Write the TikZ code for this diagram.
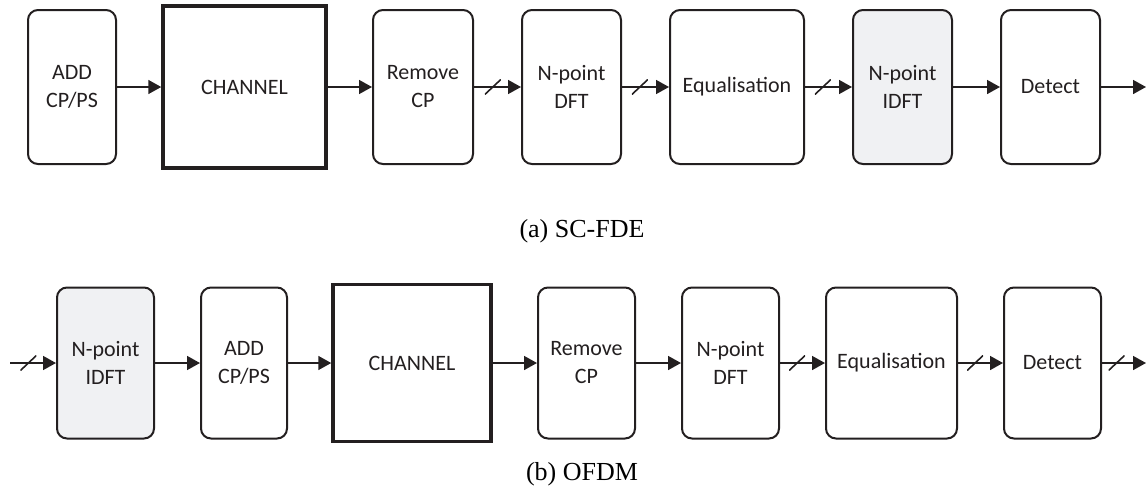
\documentclass[tikz,border=0pt]{standalone}
\usepackage{fontspec}
\setmainfont{Liberation Serif}
\newfontfamily\boxfont{Carlito}
\usetikzlibrary{arrows.meta}
\definecolor{inkgray}{HTML}{231F20}
\definecolor{idftfill}{HTML}{F0F1F3}

\begin{document}
\begin{tikzpicture}[x=0.5pt, y=-0.5pt,
  every node/.style={font=\boxfont\fontsize{11}{14}\selectfont, text=inkgray},
  blk/.style={draw=inkgray, line width=1pt, rounded corners=5pt, align=center},
  chan/.style={draw=inkgray, line width=1.75pt, align=center},
  link/.style={draw=inkgray, line width=0.8pt, -{Triangle[length=6.5pt,width=7pt]}},
  busmark/.style={inner sep=0pt, minimum width=8pt, minimum height=7.5pt,
    path picture={\draw[-, inkgray, line width=0.8pt] (path picture bounding box.south west) -- (path picture bounding box.north east);}},
  caption/.style={font=\rmfamily\fontsize{13}{15}\selectfont, text=black, anchor=base}]
  \useasboundingbox (0,0) rectangle (1146,489);

  % (a) SC-FDE chain
  \node[blk, minimum width=44pt, minimum height=77pt] (add1) at (72,87) {ADD\\CP/PS};
  \node[chan, minimum width=81.5pt, minimum height=81pt] (chan1) at (244.5,87) {CHANNEL};
  \node[blk, minimum width=50pt, minimum height=77pt] (rem1) at (423,87) {Remove\\CP};
  \node[blk, minimum width=49.5pt, minimum height=77pt] (dft1) at (571.5,87) {N-point\\DFT};
  \node[blk, minimum width=67pt, minimum height=77pt] (eq1) at (737,87) {Equalisation};
  \node[blk, minimum width=49.5pt, minimum height=77pt, fill=idftfill] (idft1) at (902.5,87) {N-point\\IDFT};
  \node[blk, minimum width=49.5pt, minimum height=77pt] (det1) at (1050.5,87) {Detect};
  \coordinate (out1) at (1146,87);

  \draw[link] (add1) -- (chan1);
  \draw[link] (chan1) -- (rem1);
  \draw[link] (rem1) -- node[busmark, pos=0.4] {} (dft1);
  \draw[link] (dft1) -- node[busmark, pos=0.38] {} (eq1);
  \draw[link] (eq1) -- node[busmark, pos=0.38] {} (idft1);
  \draw[link] (idft1) -- (det1);
  \draw[link] (det1) -- (out1);

  \node[caption] (capa) at (582,237) {(a) SC-FDE};

  % (b) OFDM chain
  \coordinate (in2) at (10,363);
  \node[blk, minimum width=48.5pt, minimum height=75.5pt, fill=idftfill] (idft2) at (105.5,363) {N-point\\IDFT};
  \node[blk, minimum width=43pt, minimum height=75.5pt] (add2) at (244,363) {ADD\\CP/PS};
  \node[chan, minimum width=79pt, minimum height=78.5pt] (chan2) at (412,363) {CHANNEL};
  \node[blk, minimum width=48.5pt, minimum height=75.5pt] (rem2) at (586.5,363) {Remove\\CP};
  \node[blk, minimum width=48.5pt, minimum height=75.5pt] (dft2) at (730.5,363) {N-point\\DFT};
  \node[blk, minimum width=65.5pt, minimum height=75.5pt] (eq2) at (891.5,363) {Equalisation};
  \node[blk, minimum width=48.5pt, minimum height=75.5pt] (det2) at (1052.5,363) {Detect};
  \coordinate (out2) at (1146,363);

  \draw[link] (in2) -- node[busmark, pos=0.4] {} (idft2);
  \draw[link] (idft2) -- (add2);
  \draw[link] (add2) -- (chan2);
  \draw[link] (chan2) -- (rem2);
  \draw[link] (rem2) -- (dft2);
  \draw[link] (dft2) -- node[busmark, pos=0.38] {} (eq2);
  \draw[link] (eq2) -- node[busmark, pos=0.38] {} (det2);
  \draw[link] (det2) -- node[busmark, pos=0.33] {} (out2);

  \node[caption] (capb) at (582,480) {(b) OFDM};

\end{tikzpicture}
\end{document}
